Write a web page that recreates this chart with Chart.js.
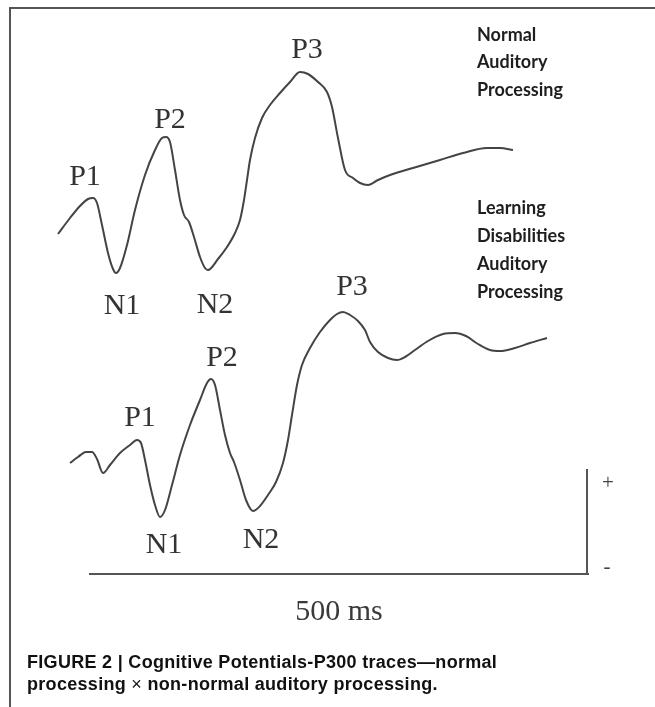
<!DOCTYPE html>
<html><head><meta charset="utf-8">
<script src="https://cdn.jsdelivr.net/npm/chart.js@4"></script>
<style>
html,body{margin:0;padding:0;background:#fff;}
body{width:655px;height:707px;position:relative;overflow:hidden;}
#wrap{position:absolute;left:0;top:0;width:655px;height:707px;}
#frame{position:absolute;left:9px;top:7px;width:646px;height:700px;border-top:2px solid #555;border-left:2px solid #555;box-sizing:border-box;pointer-events:none;}
#cap{position:absolute;left:27px;top:651px;font:bold 18px 'Liberation Sans',Arial,sans-serif;color:#111;line-height:22px;white-space:nowrap;letter-spacing:0.3px;}
#cap .x{font-weight:normal;}
</style></head><body>
<div id="wrap"><canvas id="c" width="655" height="707"></canvas></div>
<div id="frame"></div>
<div id="cap">FIGURE 2 | Cognitive Potentials-P300 traces—normal<br>processing <span class="x">×</span> non-normal auditory processing.</div>
<script>
// ---- data (time in ms, amplitude in µV, + up) ----
const topTime = [-32,-20,-10,-2,3,7,12,18,23,26,30,37,45,55,65,72,76,80,85,90,94,99,104,110,115,118,128,137,145,150,154,157,160,165,172,180,190,200,210,218,228,237,242,248,255,263,270,278,288,300,323,350,373,397,410,423];
const topAmp  = [0.0,1.6,2.8,3.5,3.6,3.1,0.9,-1.9,-3.5,-3.9,-3.4,-1.1,2.4,5.9,8.4,9.6,9.7,9.2,6.4,3.4,1.9,1.2,-0.3,-2.3,-3.4,-3.6,-2.5,-1.3,0.1,1.4,3.4,5.4,7.4,9.6,11.6,12.9,14.1,15.2,16.2,16.0,15.2,14.2,12.7,9.6,6.4,5.6,5.1,4.9,5.4,5.9,6.6,7.4,8.1,8.6,8.6,8.4];
const bottomTime = [-20,-12,-4,2,7,13,20,30,40,47,51,55,60,65,70,75,82,90,100,110,117,121,125,130,135,140,144,150,156,163,170,178,186,193,198,202,207,212,220,230,240,247,253,260,268,275,280,288,298,307,315,325,338,353,365,376,388,400,410,425,440,457];
const bottomAmp  = [0.1,0.7,1.2,1.2,0.5,-0.9,-0.1,1.1,1.9,2.4,2.1,0.4,-2.1,-4.1,-5.3,-4.6,-2.1,0.9,3.9,6.4,8.1,8.5,7.9,5.4,2.9,1.1,0.2,-1.6,-3.6,-4.7,-4.2,-3.1,-1.8,0.1,2.4,4.9,7.9,9.9,11.6,13.2,14.4,15.0,15.2,14.9,14.3,13.4,12.2,11.2,10.6,10.4,10.7,11.4,12.3,13.0,13.1,12.8,12.0,11.4,11.3,11.6,12.1,12.6];
const componentNames = ['P1','N1','P2','N2','P3'];
const topLabelTime = [-5,32,80,125,217];
const topLabelAmp  = [5.7,-7.2,11.4,-7.1,18.4];
const bottomLabelTime = [50,74,132,171,262];
const bottomLabelAmp  = [4.6,-8.1,10.6,-7.6,17.7];
const timeAxis = [0, 498];          // ms, 500 ms sweep
const timeAxisLabel = '500 ms';
const calibration = [0, 10.4];       // µV bar (+ up / - down)
const topTraceName = ['Normal','Auditory','Processing'];
const bottomTraceName = ['Learning','Disabilities','Auditory','Processing'];
// ---- layout / style ----
const TOP_OFFSET = 34, BOTTOM_OFFSET = 11;
const LINE = '#444';

const toXY = (ts, as, off) => ts.map((t,i)=>({x:t, y:as[i]+off}));

const annot = {
  id:'annot',
  afterDatasetsDraw(chart){
    const {ctx, scales:{x, y}} = chart;
    ctx.save();
    ctx.strokeStyle = '#555'; ctx.lineWidth = 2; ctx.lineCap='square';
    const y0 = y.getPixelForValue(0);
    ctx.beginPath();
    ctx.moveTo(x.getPixelForValue(timeAxis[0]), y0);
    ctx.lineTo(x.getPixelForValue(timeAxis[1]), y0);
    ctx.stroke();
    const xc = x.getPixelForValue(timeAxis[1]-1);
    ctx.beginPath();
    ctx.moveTo(xc, y.getPixelForValue(calibration[0]));
    ctx.lineTo(xc, y.getPixelForValue(calibration[1]));
    ctx.stroke();
    ctx.fillStyle = '#444';
    ctx.textAlign='center'; ctx.textBaseline='middle';
    ctx.font = '21px "Liberation Serif", serif';
    ctx.fillText('+', xc+21, y.getPixelForValue(calibration[1])+13);
    ctx.fillText('-', xc+20, y0-7);
    ctx.font = '30px "Liberation Serif", serif';
    ctx.fillStyle = '#3a3a3a';
    ctx.fillText(timeAxisLabel, x.getPixelForValue((timeAxis[0]+timeAxis[1])/2), y0+38);
    // component labels
    ctx.font = '30px "Liberation Serif", serif';
    ctx.fillStyle = '#333';
    componentNames.forEach((n,i)=>{
      ctx.fillText(n, x.getPixelForValue(topLabelTime[i]), y.getPixelForValue(topLabelAmp[i]+TOP_OFFSET));
      ctx.fillText(n, x.getPixelForValue(bottomLabelTime[i]), y.getPixelForValue(bottomLabelAmp[i]+BOTTOM_OFFSET));
    });
    // trace names
    ctx.font = 'bold 18px Lato, "Open Sans", sans-serif';
    ctx.fillStyle = '#1e1e1e';
    ctx.textAlign='left';
    topTraceName.forEach((s,i)=> ctx.fillText(s, 477, 35 + i*27.5));
    bottomTraceName.forEach((s,i)=> ctx.fillText(s, 477, 208 + i*28));
    ctx.restore();
  }
};

new Chart(document.getElementById('c'), {
  type:'line',
  data:{datasets:[
    {label:'Normal Auditory Processing', data:toXY(topTime, topAmp, TOP_OFFSET)},
    {label:'Learning Disabilities Auditory Processing', data:toXY(bottomTime, bottomAmp, BOTTOM_OFFSET)}
  ]},
  options:{
    responsive:false, devicePixelRatio:1, animation:false,
    layout:{padding:0},
    elements:{line:{borderColor:LINE, borderWidth:2, cubicInterpolationMode:'monotone', fill:false}, point:{radius:0}},
    plugins:{legend:{display:false}, tooltip:{enabled:false}},
    scales:{
      x:{type:'linear', display:false, min:-90, max:565},
      y:{type:'linear', display:false, min:-13.3, max:57.4}
    }
  },
  plugins:[annot, {id:'bg', beforeDraw(c){const g=c.ctx; g.save(); g.fillStyle='#fff'; g.fillRect(0,0,c.width,c.height); g.restore();}}]
});
</script>
</body></html>
